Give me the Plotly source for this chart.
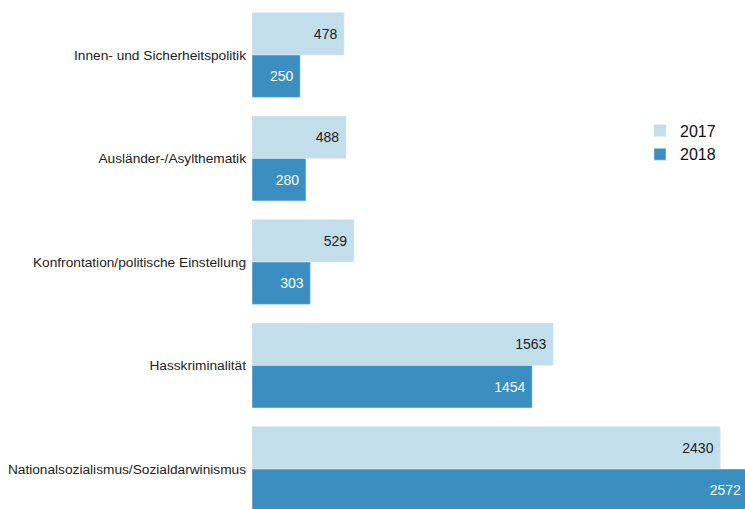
import plotly.graph_objects as go

# Categories (top to bottom) and values per year
categories = [
    'Innen- und Sicherheitspolitik',
    'Ausländer-/Asylthematik',
    'Konfrontation/politische Einstellung',
    'Hasskriminalität',
    'Nationalsozialismus/Sozialdarwinismus',
]
values_2017 = [478, 488, 529, 1563, 2430]
values_2018 = [250, 280, 303, 1454, 2572]

fig = go.Figure()
fig.add_trace(go.Bar(
    y=categories, x=values_2017, name='2017', orientation='h',
    marker_color='#c2deeb', texttemplate='%{x}\u00a0', textposition='inside',
    insidetextanchor='end', textfont=dict(color='#222222', size=14),
))
fig.add_trace(go.Bar(
    y=categories, x=values_2018, name='2018', orientation='h',
    marker_color='#3a8fc0', texttemplate='%{x}\u00a0', textposition='inside',
    insidetextanchor='end', textfont=dict(color='#ffffff', size=14),
))

fig.update_layout(
    width=745, height=509,
    barmode='group', bargap=0.18, bargroupgap=0,
    margin=dict(l=252, r=0, t=0, b=0),
    plot_bgcolor='white', paper_bgcolor='white',
    font=dict(family='Arial, Liberation Sans, sans-serif', size=13.7, color='#222222'),
    uniformtext=dict(minsize=14, mode='show'),
    legend=dict(x=0.787, y=0.72, xanchor='left', yanchor='middle',
                font=dict(size=16, color='#111111'), itemwidth=30, tracegroupgap=0),
)
fig.update_xaxes(range=[0, 2558], visible=False, showgrid=False)
fig.update_yaxes(range=[4.386, -0.531], showgrid=False, ticks='',
                 showline=False, ticklabelstandoff=5)

# remove default page margin so the figure sits at the window corner
fig.write_html('out.html', config={'displayModeBar': False},
               post_script="document.body.style.margin='0';")
